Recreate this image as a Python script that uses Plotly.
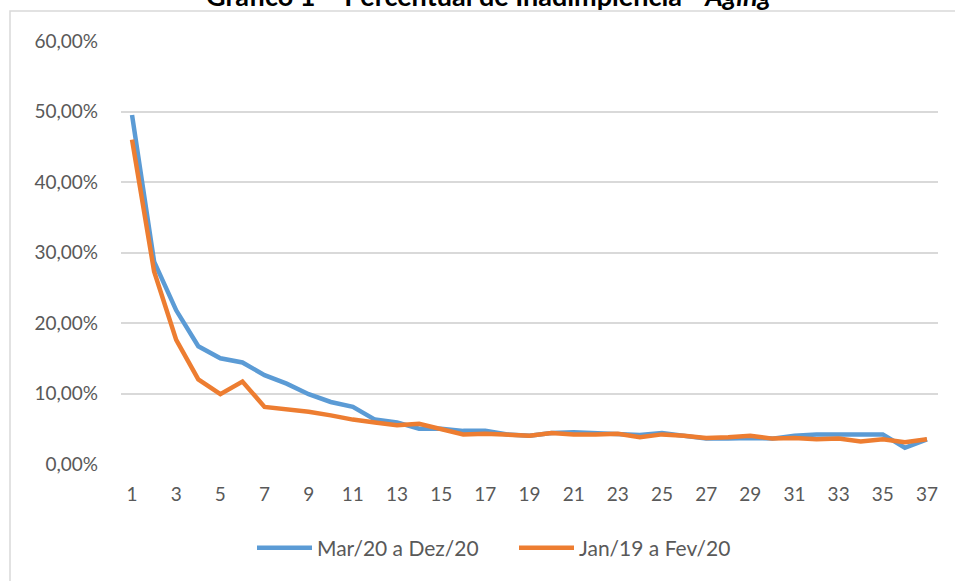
import plotly.graph_objects as go

# Data (values in %)
meses = list(range(1, 38))
serie_mar20_dez20 = [49.5, 28.7, 21.8, 16.7, 15.0, 14.4, 12.6, 11.4, 9.9, 8.8,
                     8.1, 6.3, 5.9, 5.0, 5.0, 4.7, 4.7, 4.2, 4.0, 4.4,
                     4.5, 4.4, 4.3, 4.1, 4.4, 4.0, 3.6, 3.6, 3.7, 3.6,
                     4.0, 4.2, 4.2, 4.2, 4.2, 2.3, 3.5]
serie_jan19_fev20 = [46.0, 27.3, 17.6, 12.0, 9.9, 11.7, 8.1, 7.8, 7.4, 6.9,
                     6.3, 5.9, 5.5, 5.7, 5.0, 4.2, 4.3, 4.2, 4.0, 4.4,
                     4.2, 4.2, 4.3, 3.8, 4.2, 4.0, 3.7, 3.8, 4.0, 3.6,
                     3.7, 3.5, 3.6, 3.2, 3.5, 3.1, 3.5]
nomes = ["Mar/20 a Dez/20", "Jan/19 a Fev/20"]
x_ticks = list(range(1, 38, 2))
y_ticks = [0, 0.1, 0.2, 0.3, 0.4, 0.5, 0.6]
titulo = "Gráfico 1 – Percentual de Inadimplência - <i>Aging</i>"

FONT = "Lato"
GRAY = "#595959"

fig = go.Figure()
fig.add_trace(go.Scatter(x=meses, y=[v / 100 for v in serie_mar20_dez20], mode="lines",
                         name=nomes[0], line=dict(color="#5B9BD5", width=4.5)))
fig.add_trace(go.Scatter(x=meses, y=[v / 100 for v in serie_jan19_fev20], mode="lines",
                         name=nomes[1], line=dict(color="#ED7D31", width=4.5)))

L, R, T, B = 121, 17, 41, 117
W, H = 955, 581
pw, ph = W - L - R, H - T - B

def px_x(x):
    return (x - L) / pw

def px_y(y):
    return (H - B - y) / ph

fig.update_layout(
    width=W, height=H,
    margin=dict(l=L, r=R, t=T, b=B, pad=0),
    paper_bgcolor="white", plot_bgcolor="white",
    separators=",.",
    font=dict(family=FONT, size=19, color=GRAY),
    showlegend=True,
    legend=dict(orientation="h", x=px_x(252), xanchor="left", y=px_y(548), yanchor="middle",
                font=dict(family=FONT, size=21, color=GRAY), itemwidth=55,
                entrywidth=192, entrywidthmode="pixels",
                traceorder="normal"),
    xaxis=dict(range=[0.5, 37.5], tickmode="array", tickvals=x_ticks,
               showgrid=False, zeroline=False, showline=False, ticks="",
               ticklabelstandoff=17, tickfont=dict(size=19, color=GRAY)),
    yaxis=dict(range=[0, 0.6], tickmode="array", tickvals=y_ticks, tickformat=".2%",
               showgrid=True, gridcolor="#D9D9D9", gridwidth=1.5, zeroline=False,
               showline=False, ticks="", ticklabelstandoff=22,
               tickfont=dict(size=19, color=GRAY)),
    shapes=[dict(type="rect", xref="paper", yref="paper",
                 x0=px_x(10), x1=px_x(975), y0=px_y(600), y1=px_y(11),
                 line=dict(color="#D9D9D9", width=1.5), layer="below")],
    annotations=[dict(text="<b>" + titulo + "</b>", xref="paper", yref="paper",
                      x=px_x(489), y=px_y(14), xanchor="center", yanchor="bottom",
                      showarrow=False, font=dict(family=FONT, size=27, color="black"))],
)

fig.write_html("out.html", config={"displayModeBar": False},
               post_script="document.body.style.margin='0';")
